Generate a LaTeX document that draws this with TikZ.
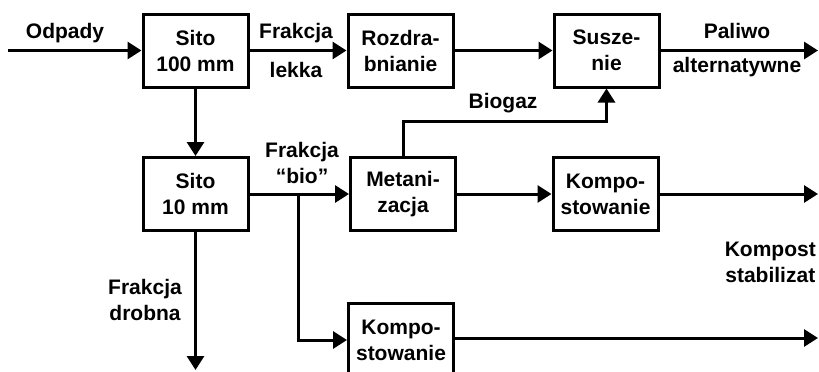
\documentclass[tikz,border=0pt]{standalone}
\usepackage{fontspec}
\setmainfont{Liberation Sans}
\usetikzlibrary{arrows.meta}
\begin{document}
\begin{tikzpicture}[x=1pt,y=-1pt,
  every node/.style={font=\fontsize{21}{26}\selectfont\bfseries, align=center, inner sep=0pt},
  box/.style={draw, line width=3pt, minimum width=105pt, minimum height=73pt},
  lbl/.style={},
  arr/.style={line width=3pt, -{Triangle[length=14pt,width=17pt]}},
  ln/.style={line width=3pt}]
\useasboundingbox (0,0) rectangle (819,372);
\clip (0,0) rectangle (819,372);
% boxes
\node[box] (s100) at (195.5,50.5) {Sito\\100 mm};
\node[box] (rozd) at (400.5,50.5) {Rozdra-\\bnianie};
\node[box] (susz) at (606.5,50.5) {Susze-\\nie};
\node[box] (s10) at (195.5,194) {Sito\\10 mm};
\node[box] (metan) at (403,194) {Metani-\\zacja};
\node[box] (komp1) at (605.5,194) {Kompo-\\stowanie};
\node[box, anchor=north] (komp2) at (401,302) {Kompo-\\stowanie};
% free ends
\coordinate (in) at (8,50.5);
\coordinate (out1) at (818,50.5);
\coordinate (out2) at (818,194);
\coordinate (out3) at (818,338);
\coordinate (down) at (195.5,370);
\coordinate (br) at (298,194);
% connectors
\draw[arr] (in) -- (s100.west);
\draw[arr] (s100.east) -- (rozd.west);
\draw[arr] (rozd.east) -- (susz.west);
\draw[arr] (susz.east) -- (out1);
\draw[arr] (s100.south) -- (s10.north);
\draw[arr] (s10.east) -- (metan.west);
\draw[arr] (metan.east) -- (komp1.west);
\draw[arr] (komp1.east) -- (out2);
\draw[arr] (metan.north) -- ++(0,-35) -| (susz.south);
\draw[arr] (br) |- (komp2.west);
\draw[arr] (komp2.east |- out3) -- (out3);
\draw[arr] (s10.south) -- (down);
% labels
\node[lbl] (lodp) at (65,33) {Odpady};
\node[lbl] (lfr1) at (296,33) {Frakcja};
\node[lbl] (llek) at (296,70) {lekka};
\node[lbl] (lpal) at (737,31) {Paliwo};
\node[lbl] (lalt) at (737,67) {alternatywne};
\node[lbl] (lbio) at (503,103) {Biogaz};
\node[lbl] (lfr2) at (302,163) {Frakcja\\“bio”};
\node[lbl] (lfd) at (145,299.5) {Frakcja\\drobna};
\node[lbl, anchor=east] (lkomp) at (816,262.5) {Kompost\\stabilizat};
\end{tikzpicture}
\end{document}
